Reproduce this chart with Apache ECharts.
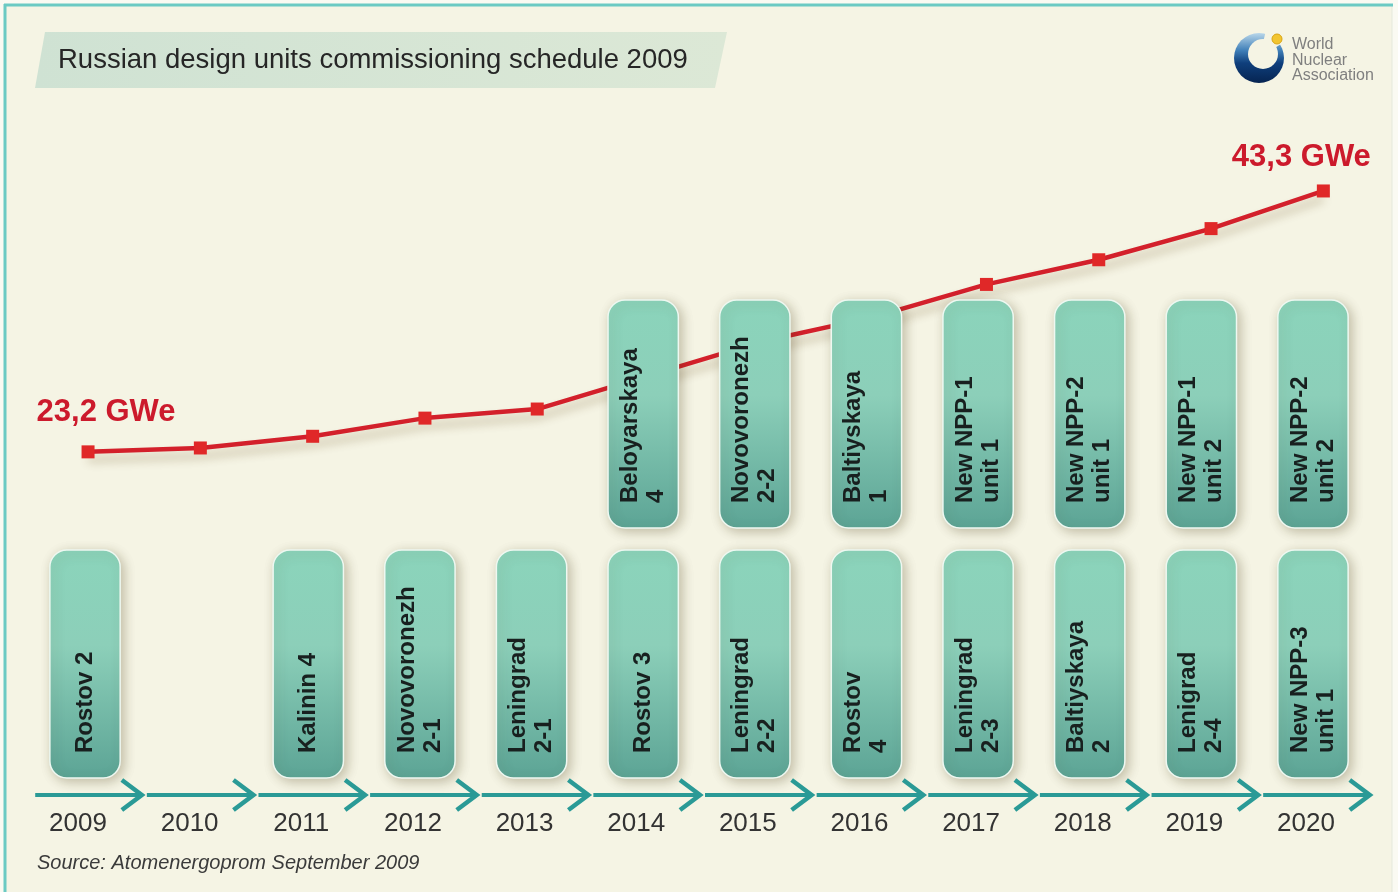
<!DOCTYPE html>
<html>
<head>
<meta charset="utf-8">
<title>Russian design units commissioning schedule 2009</title>
<style>
  html, body { margin: 0; padding: 0; background: #fafaf2; }
  #chart { width: 1398px; height: 892px; }
</style>
<script src="https://cdn.jsdelivr.net/npm/echarts@6/dist/echarts.min.js"></script>
</head>
<body>
<div id="chart"></div>
<script>
// Commissioning years (x axis)
const years = ['2009', '2010', '2011', '2012', '2013', '2014', '2015', '2016', '2017', '2018', '2019', '2020'];

// Installed nuclear capacity, GWe
const capacityGWe = [23.2, 23.5, 24.4, 25.8, 26.5, 29.1, 31.7, 33.6, 36.1, 38.0, 40.4, 43.3];

// Units commissioned each year: upper and lower rows of cards
const upperUnits = [null, null, null, null, null,
  'Beloyarskaya\n4', 'Novovoronezh\n2-2', 'Baltiyskaya\n1', 'New NPP-1\nunit 1',
  'New NPP-2\nunit 1', 'New NPP-1\nunit 2', 'New NPP-2\nunit 2'];
const lowerUnits = ['Rostov 2', null, 'Kalinin 4', 'Novovoronezh\n2-1', 'Leningrad\n2-1',
  'Rostov 3', 'Leningrad\n2-2', 'Rostov\n4', 'Leningrad\n2-3', 'Baltiyskaya\n2',
  'Lenigrad\n2-4', 'New NPP-3\nunit 1'];
const cardRows = ['lower', 'upper'];

const FONT = '"Liberation Sans", Arial, Helvetica, sans-serif';
const TEAL = '#2a9a96';

// Card list: [yearIndex, rowIndex, label]
const unitData = [];
upperUnits.forEach((n, i) => { if (n) unitData.push([i, 1, n]); });
lowerUnits.forEach((n, i) => { if (n) unitData.push([i, 0, n]); });

const arrowData = years.map((y, i) => [i, 0]);

const last = capacityGWe.length - 1;
const fmtGWe = v => v.toFixed(1).replace('.', ',') + ' GWe';

const endLabel = {
  show: true,
  position: 'top',
  formatter: p => fmtGWe(p.value),
  color: '#cc1a2c',
  fontFamily: FONT,
  fontWeight: 'bold',
  fontSize: 31
};
const lineData = capacityGWe.map((v, i) => {
  if (i === 0) return { value: v, label: Object.assign({}, endLabel, { offset: [18, -12] }) };
  if (i === last) return { value: v, label: Object.assign({}, endLabel, { offset: [-22, -7] }) };
  return { value: v };
});

function renderCard(params, api) {
  const d = unitData[params.dataIndex];
  const c = api.coord([d[0], d[1]]);
  const band = api.size([1, 1]);
  const w = band[0] * 0.63;
  const h = band[1] - 11;
  const x = c[0] - w / 2;
  const y = d[1] === 1 ? c[1] - band[1] / 2 : c[1] + band[1] / 2 - h;
  return {
    type: 'group',
    children: [
      {
        type: 'rect',
        shape: { x: x, y: y, width: w, height: h, r: 17 },
        style: {
          fill: new echarts.graphic.LinearGradient(0, 0, 0, 1, [
            { offset: 0, color: '#8bd4bb' },
            { offset: 0.42, color: '#8ccfb9' },
            { offset: 1, color: '#5ca495' }
          ]),
          stroke: '#eef8f1',
          lineWidth: 1.5,
          shadowBlur: 12,
          shadowColor: 'rgba(70,60,20,0.30)',
          shadowOffsetX: 3,
          shadowOffsetY: 3
        }
      },
      {
        type: 'text',
        x: c[0],
        y: y + h - 25,
        rotation: Math.PI / 2,
        style: {
          text: d[2],
          x: 0,
          y: 0,
          align: 'left',
          verticalAlign: 'middle',
          fill: '#18201f',
          fontFamily: FONT,
          fontWeight: 'bold',
          fontSize: 24,
          lineHeight: 26
        }
      }
    ]
  };
}

function renderArrow(params, api) {
  const c = api.coord([api.value(0), 0]);
  const bw = api.size([1, 0])[0];
  const cs = params.coordSys;
  const y = cs.y + cs.height + 17;
  const x0 = c[0] - bw / 2 + 6;
  const x1 = c[0] + bw / 2 + 1;
  return {
    type: 'group',
    children: [
      { type: 'line', shape: { x1: x0, y1: y, x2: x1 - 2, y2: y },
        style: { stroke: TEAL, lineWidth: 4 } },
      { type: 'polyline', shape: { points: [[x1 - 20, y - 15], [x1, y], [x1 - 20, y + 15]] },
        style: { stroke: TEAL, lineWidth: 4.5, fill: null, lineJoin: 'miter' } }
    ]
  };
}

const chart = echarts.init(document.getElementById('chart'));

chart.setOption({
  animation: false,
  backgroundColor: '#fafaf2',
  textStyle: { fontFamily: FONT },
  graphic: [
    // Panel with teal frame
    { type: 'rect', z: -10, shape: { x: 5, y: 5, width: 1387, height: 900 },
      style: { fill: '#f5f4e4', stroke: '#e4e9dc', lineWidth: 1 } },
    { type: 'line', z: -9, shape: { x1: 4, y1: 5, x2: 1393, y2: 5 },
      style: { stroke: '#6bcac3', lineWidth: 3 } },
    { type: 'line', z: -9, shape: { x1: 5, y1: 4, x2: 5, y2: 892 },
      style: { stroke: '#6bcac3', lineWidth: 3 } },
    // Title banner
    { type: 'polygon', z: -5,
      shape: { points: [[45, 32], [727, 32], [715, 88], [35, 88]] },
      style: {
        fill: new echarts.graphic.LinearGradient(0, 0, 1, 0, [
          { offset: 0, color: '#cfe2d3' },
          { offset: 1, color: '#dce8d6' }
        ])
      } },
    { type: 'text', z: 5, x: 58, y: 60,
      style: { text: 'Russian design units commissioning schedule 2009', fill: '#262626',
        fontFamily: FONT, fontSize: 27.5, verticalAlign: 'middle' } },
    // World Nuclear Association mark
    { type: 'circle', z: 5, shape: { cx: 1259, cy: 58, r: 25 },
      style: {
        fill: new echarts.graphic.LinearGradient(0, 0, 0, 1, [
          { offset: 0, color: '#b9d7ea' },
          { offset: 0.35, color: '#3f7fb8' },
          { offset: 0.6, color: '#0f3f7c' },
          { offset: 1, color: '#062451' }
        ])
      } },
    { type: 'circle', z: 6, shape: { cx: 1263, cy: 54, r: 15 }, style: { fill: '#f5f4e4' } },
    { type: 'sector', z: 6, shape: { cx: 1259, cy: 58, r: 27, r0: 0,
        startAngle: -Math.PI * 0.42, endAngle: -Math.PI * 0.18 },
      style: { fill: '#f5f4e4' } },
    { type: 'circle', z: 7, shape: { cx: 1277, cy: 39, r: 5 },
      style: { fill: '#f2c530', stroke: '#d9a514', lineWidth: 1 } },
    { type: 'text', z: 5, x: 1292, y: 37,
      style: { text: 'World\nNuclear\nAssociation', fill: '#7f7f7f', fontFamily: FONT,
        fontSize: 16, lineHeight: 15.5, verticalAlign: 'top' } },
    // Source note
    { type: 'text', z: 5, x: 37, y: 863,
      style: { text: 'Source: Atomenergoprom September 2009', fill: '#3a3a3a', fontFamily: FONT,
        fontStyle: 'italic', fontSize: 20, verticalAlign: 'middle' } }
  ],
  grid: [
    { left: 31.9, right: 18.5, top: 104, height: 649 },
    { left: 29.2, right: 29.2, top: 300, height: 478 }
  ],
  xAxis: [
    { gridIndex: 0, type: 'category', data: years, show: false },
    { gridIndex: 1, type: 'category', data: years,
      axisLine: { show: false }, axisTick: { show: false },
      axisLabel: { color: '#333', fontSize: 26, margin: 33, padding: [0, 14, 0, 0], fontFamily: FONT } }
  ],
  yAxis: [
    { gridIndex: 0, type: 'value', min: 0, max: 50, show: false },
    { gridIndex: 1, type: 'category', data: cardRows, show: false }
  ],
  series: [
    {
      type: 'line',
      xAxisIndex: 0, yAxisIndex: 0,
      z: 2,
      silent: true,
      data: lineData,
      symbol: 'rect',
      symbolSize: 13,
      itemStyle: { color: '#e02828' },
      lineStyle: { color: '#d3202b', width: 4.5,
        shadowColor: 'rgba(90,60,10,0.30)', shadowBlur: 10, shadowOffsetY: 8 }
    },
    {
      type: 'custom',
      xAxisIndex: 1, yAxisIndex: 1,
      z: 5,
      silent: true,
      data: unitData.map(d => [d[0], d[1]]),
      renderItem: renderCard
    },
    {
      type: 'custom',
      xAxisIndex: 1, yAxisIndex: 1,
      z: 5,
      silent: true,
      clip: false,
      data: arrowData,
      renderItem: renderArrow
    }
  ]
});
</script>
</body>
</html>
